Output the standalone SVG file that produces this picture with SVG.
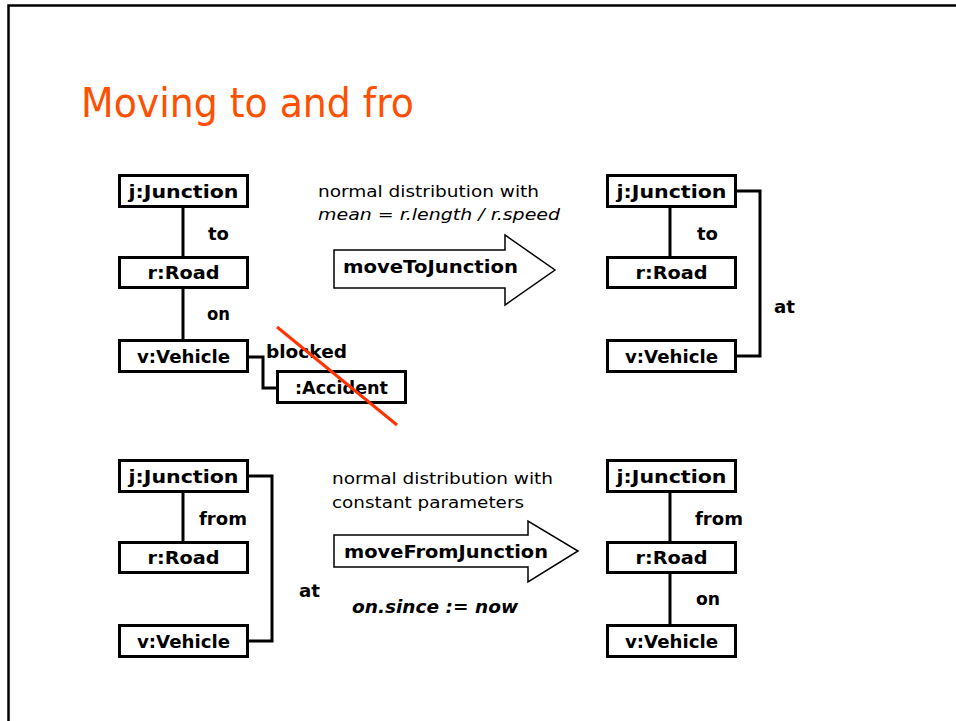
<svg xmlns="http://www.w3.org/2000/svg" width="956" height="721" viewBox="0 0 956 721">
  <style>
    .frame { fill: none; stroke: #000; stroke-width: 2.5; }
    .title { font-family: "DejaVu Sans", Verdana, sans-serif; font-size: 40px; fill: #ff5000; }
    .box { fill: #fff; stroke: #000; stroke-width: 3; }
    .lbl { font-family: "DejaVu Sans", Verdana, sans-serif; font-size: 18px; font-weight: bold; fill: #000; text-anchor: middle; }
    .role { font-family: "DejaVu Sans", Verdana, sans-serif; font-size: 18px; font-weight: bold; fill: #000; }
    .note { font-family: "DejaVu Sans", Verdana, sans-serif; font-size: 16px; fill: #000; }
    .link { fill: none; stroke: #000; stroke-width: 3; }
    .arrow { fill: #fff; stroke: #000; stroke-width: 1.5; }
    .cross { stroke: #ff3300; stroke-width: 3; }
  </style>

  <!-- slide frame -->
  <path class="frame" d="M8.5,721 V5.5 H956"/>
  <text class="title" x="81" y="117" textLength="333" lengthAdjust="spacingAndGlyphs">Moving to and fro</text>

  <!-- connectors -->
  <g id="connectors">
    <!-- before moveToJunction -->
    <line class="link" x1="183" y1="207" x2="183" y2="257"/>
    <line class="link" x1="183" y1="288" x2="183" y2="340"/>
    <polyline class="link" points="248,357 263,357 263,388 277,388"/>
    <!-- after moveToJunction -->
    <line class="link" x1="670" y1="207" x2="670" y2="257"/>
    <polyline class="link" points="736,191 760,191 760,356 736,356"/>
    <!-- before moveFromJunction -->
    <line class="link" x1="183" y1="492" x2="183" y2="542"/>
    <polyline class="link" points="248,476 272,476 272,641 248,641"/>
    <!-- after moveFromJunction -->
    <line class="link" x1="670" y1="492" x2="670" y2="542"/>
    <line class="link" x1="670" y1="573" x2="670" y2="625"/>
  </g>

  <!-- role labels -->
  <g id="roles">
    <text class="role" x="208" y="240" textLength="21" lengthAdjust="spacingAndGlyphs">to</text>
    <text class="role" x="207" y="320" textLength="23" lengthAdjust="spacingAndGlyphs">on</text>
    <text class="role" x="266" y="358" textLength="81" lengthAdjust="spacingAndGlyphs">blocked</text>
    <text class="role" x="697" y="240" textLength="21" lengthAdjust="spacingAndGlyphs">to</text>
    <text class="role" x="774" y="313" textLength="21" lengthAdjust="spacingAndGlyphs">at</text>
    <text class="role" x="199" y="525" textLength="48" lengthAdjust="spacingAndGlyphs">from</text>
    <text class="role" x="299" y="597" textLength="21" lengthAdjust="spacingAndGlyphs">at</text>
    <text class="role" x="695" y="525" textLength="48" lengthAdjust="spacingAndGlyphs">from</text>
    <text class="role" x="696" y="605" textLength="24" lengthAdjust="spacingAndGlyphs">on</text>
  </g>

  <!-- top left: state before moveToJunction -->
  <g id="tl-junction"><rect class="box" x="119.5" y="175.5" width="128" height="31"/><text class="lbl" x="183.5" y="198" textLength="110" lengthAdjust="spacingAndGlyphs">j:Junction</text></g>
  <g id="tl-road"><rect class="box" x="119.5" y="257.5" width="128" height="30"/><text class="lbl" x="183.5" y="279" textLength="72" lengthAdjust="spacingAndGlyphs">r:Road</text></g>
  <g id="tl-vehicle"><rect class="box" x="119.5" y="340.5" width="128" height="31"/><text class="lbl" x="183.5" y="363" textLength="93" lengthAdjust="spacingAndGlyphs">v:Vehicle</text></g>
  <g id="tl-accident"><rect class="box" x="277.5" y="371.5" width="128" height="31"/><text class="lbl" x="341.5" y="394" textLength="93" lengthAdjust="spacingAndGlyphs">:Accident</text></g>
  <line id="accident-cross" class="cross" x1="277" y1="327" x2="397" y2="425"/>

  <!-- rule moveToJunction -->
  <g id="rule-to">
    <text class="note" x="318" y="197" textLength="221" lengthAdjust="spacingAndGlyphs">normal distribution with</text>
    <text class="note" x="318" y="220" font-style="italic" textLength="242" lengthAdjust="spacingAndGlyphs">mean = r.length / r.speed</text>
    <path class="arrow" d="M334,250 H505 V235 L555,270 L505,305 V288 H334 Z"/>
    <text class="role" x="343" y="273" textLength="175" lengthAdjust="spacingAndGlyphs">moveToJunction</text>
  </g>

  <!-- top right: state after moveToJunction -->
  <g id="tr-junction"><rect class="box" x="607.5" y="175.5" width="128" height="31"/><text class="lbl" x="671.5" y="198" textLength="110" lengthAdjust="spacingAndGlyphs">j:Junction</text></g>
  <g id="tr-road"><rect class="box" x="607.5" y="257.5" width="128" height="30"/><text class="lbl" x="671.5" y="279" textLength="72" lengthAdjust="spacingAndGlyphs">r:Road</text></g>
  <g id="tr-vehicle"><rect class="box" x="607.5" y="340.5" width="128" height="31"/><text class="lbl" x="671.5" y="363" textLength="93" lengthAdjust="spacingAndGlyphs">v:Vehicle</text></g>

  <!-- bottom left: state before moveFromJunction -->
  <g id="bl-junction"><rect class="box" x="119.5" y="460.5" width="128" height="31"/><text class="lbl" x="183.5" y="483" textLength="110" lengthAdjust="spacingAndGlyphs">j:Junction</text></g>
  <g id="bl-road"><rect class="box" x="119.5" y="542.5" width="128" height="30"/><text class="lbl" x="183.5" y="564" textLength="72" lengthAdjust="spacingAndGlyphs">r:Road</text></g>
  <g id="bl-vehicle"><rect class="box" x="119.5" y="625.5" width="128" height="31"/><text class="lbl" x="183.5" y="648" textLength="93" lengthAdjust="spacingAndGlyphs">v:Vehicle</text></g>

  <!-- rule moveFromJunction -->
  <g id="rule-from">
    <text class="note" x="332" y="484" textLength="221" lengthAdjust="spacingAndGlyphs">normal distribution with</text>
    <text class="note" x="332" y="508" textLength="192" lengthAdjust="spacingAndGlyphs">constant parameters</text>
    <path class="arrow" d="M334,535 H528 V521 L578,551 L528,582 V567 H334 Z"/>
    <text class="role" x="344" y="558" textLength="204" lengthAdjust="spacingAndGlyphs">moveFromJunction</text>
    <text class="role" x="352" y="613" font-style="italic" textLength="166" lengthAdjust="spacingAndGlyphs">on.since := now</text>
  </g>

  <!-- bottom right: state after moveFromJunction -->
  <g id="br-junction"><rect class="box" x="607.5" y="460.5" width="128" height="31"/><text class="lbl" x="671.5" y="483" textLength="110" lengthAdjust="spacingAndGlyphs">j:Junction</text></g>
  <g id="br-road"><rect class="box" x="607.5" y="542.5" width="128" height="30"/><text class="lbl" x="671.5" y="564" textLength="72" lengthAdjust="spacingAndGlyphs">r:Road</text></g>
  <g id="br-vehicle"><rect class="box" x="607.5" y="625.5" width="128" height="31"/><text class="lbl" x="671.5" y="648" textLength="93" lengthAdjust="spacingAndGlyphs">v:Vehicle</text></g>
</svg>
